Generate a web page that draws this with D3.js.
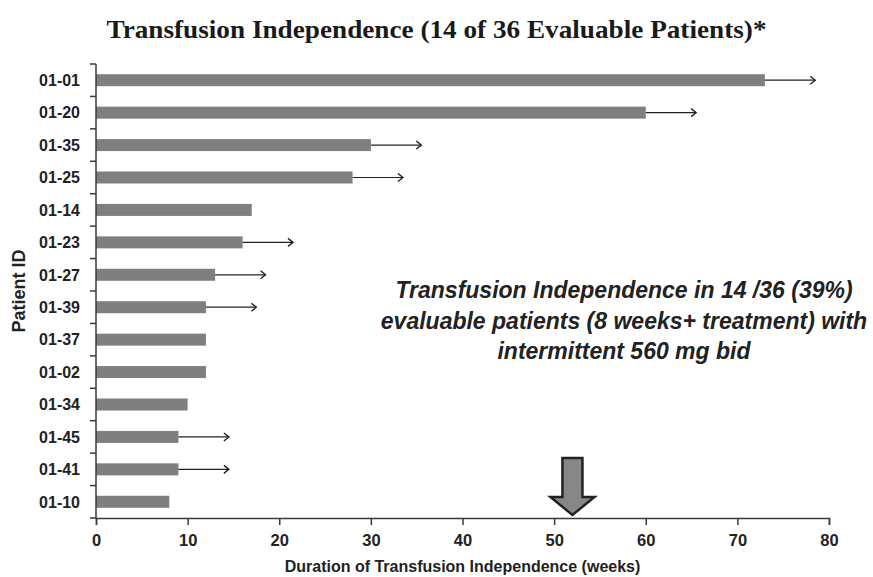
<!DOCTYPE html>
<meta charset="utf-8">
<style>
body { margin: 0; background: #fff; }
.axis path, .axis line { stroke: #3a3a3a; stroke-width: 1.5px; }
.axis text { font-family: "Liberation Sans", Arial, sans-serif; font-weight: bold; fill: #222; }
</style>
<body>
<script src="https://d3js.org/d3.v7.min.js"></script>
<script>
var width = 873,
    height = 577;

// patients, top to bottom
var patients = ["01-01", "01-20", "01-35", "01-25", "01-14", "01-23", "01-27",
                "01-39", "01-37", "01-02", "01-34", "01-45", "01-41", "01-10"];
// weeks of transfusion independence
var weeks = [73, 60, 30, 28, 17, 16, 13, 12, 12, 12, 10, 9, 9, 8];
// ongoing response (arrow) and where the arrow ends
var ongoing = [true, true, true, true, false, true, true, true, false, false, false, true, true, false];
var arrowEnd = [78.5, 65.5, 35.5, 33.5, null, 21.5, 18.5, 17.5, null, null, null, 14.5, 14.5, null];
var xTicks = [0, 10, 20, 30, 40, 50, 60, 70, 80];
var markerWeek = 52;

var note = ["Transfusion Independence in 14 /36 (39%)",
            "evaluable patients (8 weeks+ treatment) with",
            "intermittent 560 mg bid"];

var rows = patients.map(function(p, i) {
  return {id: p, weeks: weeks[i], ongoing: ongoing[i], end: arrowEnd[i]};
});

var margin = {top: 64, right: 44, bottom: 59, left: 96};

var svg = d3.select("body").append("svg")
    .attr("width", width)
    .attr("height", height);

var x = d3.scaleLinear()
    .domain([0, 80])
    .range([margin.left, width - margin.right]);

var y = d3.scaleBand()
    .domain(patients)
    .range([margin.top, height - margin.bottom])
    .paddingInner(0.63)
    .paddingOuter(0.315);

var yb = d3.scaleBand().domain(patients).range(y.range());

svg.append("defs").append("marker")
    .attr("id", "head")
    .attr("viewBox", "0 0 10 10")
    .attr("refX", 9)
    .attr("refY", 5)
    .attr("markerUnits", "userSpaceOnUse")
    .attr("markerWidth", 10)
    .attr("markerHeight", 10)
    .attr("orient", "auto")
  .append("path")
    .attr("d", "M4,1 L9,5 L4,9")
    .attr("fill", "none")
    .attr("stroke", "#222")
    .attr("stroke-width", 1.4);

// bars
svg.selectAll("rect.bar")
    .data(rows)
  .enter().append("rect")
    .attr("class", "bar")
    .attr("x", x(0))
    .attr("y", function(d) { return y(d.id); })
    .attr("width", function(d) { return x(d.weeks) - x(0); })
    .attr("height", y.bandwidth())
    .attr("fill", "#7f7f82");

// continuing arrows
svg.selectAll("line.cont")
    .data(rows.filter(function(d) { return d.ongoing; }))
  .enter().append("line")
    .attr("class", "cont")
    .attr("x1", function(d) { return x(d.weeks); })
    .attr("x2", function(d) { return x(d.end); })
    .attr("y1", function(d) { return y(d.id) + y.bandwidth() / 2; })
    .attr("y2", function(d) { return y(d.id) + y.bandwidth() / 2; })
    .attr("stroke", "#222")
    .attr("stroke-width", 1.2)
    .attr("marker-end", "url(#head)");

// x axis
var xAxis = svg.append("g")
    .attr("class", "axis")
    .attr("transform", "translate(0," + (height - margin.bottom) + ")")
    .call(d3.axisBottom(x).tickValues(xTicks).tickSize(7).tickSizeOuter(7).tickPadding(9));
xAxis.selectAll("text").style("font-size", "16.5px");

// y axis: ticks between categories
var yAxis = svg.append("g")
    .attr("class", "axis")
    .attr("transform", "translate(" + margin.left + ",0)");
yAxis.append("line")
    .attr("x1", 0).attr("x2", 0)
    .attr("y1", margin.top).attr("y2", height - margin.bottom);
yAxis.selectAll("line.tick")
    .data(patients.concat(["end"]))
  .enter().append("line")
    .attr("class", "tick")
    .attr("x1", -6).attr("x2", 0)
    .attr("y1", function(d, i) { return i < patients.length ? yb(d) : yb.range()[1]; })
    .attr("y2", function(d, i) { return i < patients.length ? yb(d) : yb.range()[1]; });
yAxis.selectAll("text")
    .data(patients)
  .enter().append("text")
    .attr("x", -16)
    .attr("y", function(d) { return yb(d) + yb.bandwidth() / 2; })
    .attr("dy", "0.36em")
    .attr("text-anchor", "end")
    .style("font-size", "16px")
    .text(function(d) { return d; });

// big down arrow
var ax = x(markerWeek), base = height - margin.bottom;
svg.append("path")
    .attr("d", "M" + (ax - 10) + "," + (base - 60) +
               " L" + (ax + 10) + "," + (base - 60) +
               " L" + (ax + 10) + "," + (base - 21) +
               " L" + (ax + 22) + "," + (base - 21) +
               " L" + ax + "," + (base - 3) +
               " L" + (ax - 22) + "," + (base - 21) +
               " L" + (ax - 10) + "," + (base - 21) + " Z")
    .attr("fill", "#87878a")
    .attr("stroke", "#222")
    .attr("stroke-width", 2.5)
    .attr("stroke-linejoin", "miter");

// title
svg.append("text")
    .attr("x", width / 2)
    .attr("y", 38)
    .attr("text-anchor", "middle")
    .attr("textLength", 660)
    .attr("lengthAdjust", "spacingAndGlyphs")
    .style("font-family", "'Liberation Serif', 'Times New Roman', serif")
    .style("font-weight", "bold")
    .style("font-size", "26px")
    .style("fill", "#1a1a1a")
    .text("Transfusion Independence (14 of 36 Evaluable Patients)*");

// axis titles
svg.append("text")
    .attr("x", (x(0) + x(80)) / 2)
    .attr("y", 572)
    .attr("text-anchor", "middle")
    .style("font-family", "'Liberation Sans', Arial, sans-serif")
    .style("font-weight", "bold")
    .style("font-size", "16px")
    .style("fill", "#222")
    .text("Duration of Transfusion Independence (weeks)");

svg.append("text")
    .attr("transform", "translate(25,291) rotate(-90)")
    .attr("text-anchor", "middle")
    .style("font-family", "'Liberation Sans', Arial, sans-serif")
    .style("font-weight", "bold")
    .style("font-size", "18px")
    .style("fill", "#222")
    .text("Patient ID");

// annotation
svg.append("g").selectAll("text")
    .data(note)
  .enter().append("text")
    .attr("x", 624)
    .attr("y", function(d, i) { return 298 + i * 30.5; })
    .attr("text-anchor", "middle")
    .style("font-family", "'Liberation Sans', Arial, sans-serif")
    .style("font-weight", "bold")
    .style("font-style", "italic")
    .style("font-size", "23px")
    .style("fill", "#222")
    .text(function(d) { return d; });
</script>
</body>
</html>
